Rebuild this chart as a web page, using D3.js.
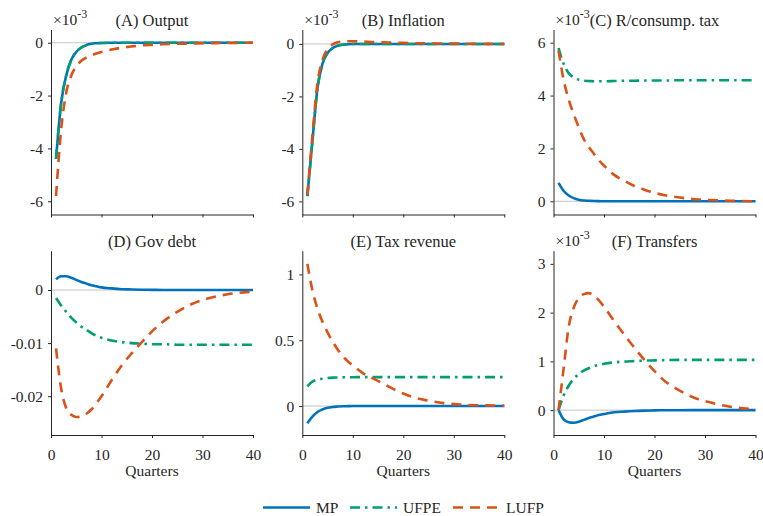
<!DOCTYPE html>
<html>
<head>
<meta charset="utf-8">
<script src="https://cdn.jsdelivr.net/npm/d3@7"></script>
<style>
  body { margin: 0; background: #fff; }
</style>
</head>
<body>
<div id="chart"></div>
<script>
// quarter grid shared by every series
const quarters = [1, 2, 3, 4, 5, 6, 7, 8, 9, 10, 12, 14, 16, 18, 20, 22, 25, 28, 31, 35, 40];

// (A) Output, x1e-3
const outputMP   = [-4.4, -2.3, -1.25, -0.65, -0.35, -0.18, -0.09, -0.04, -0.02, -0.01, 0, 0, 0, 0, 0, 0, 0, 0, 0, 0, 0];
const outputUFPE = [-4.4, -2.3, -1.25, -0.65, -0.35, -0.18, -0.09, -0.04, -0.02, -0.01, 0, 0, 0, 0, 0, 0, 0, 0, 0, 0, 0];
const outputLUFP = [-5.8, -3.3, -1.9, -1.25, -0.9, -0.68, -0.56, -0.48, -0.41, -0.35, -0.26, -0.19, -0.14, -0.1, -0.08, -0.06, -0.04, -0.03, -0.02, -0.01, 0];

// (B) Inflation, x1e-3
const inflMP   = [-5.8, -3.7, -1.7, -0.75, -0.35, -0.16, -0.07, -0.03, -0.01, 0, 0, 0, 0, 0, 0, 0, 0, 0, 0, 0, 0];
const inflUFPE = [-5.8, -3.7, -1.7, -0.75, -0.35, -0.16, -0.07, -0.03, -0.01, 0, 0, 0, 0, 0, 0, 0, 0, 0, 0, 0, 0];
const inflLUFP = [-5.75, -3.5, -1.5, -0.6, -0.2, -0.02, 0.06, 0.09, 0.1, 0.1, 0.09, 0.07, 0.06, 0.05, 0.04, 0.03, 0.02, 0.015, 0.01, 0.005, 0];

// (C) R / consumption tax, x1e-3
const rtaxMP   = [0.7, 0.4, 0.22, 0.12, 0.06, 0.03, 0.02, 0.01, 0.005, 0, 0, 0, 0, 0, 0, 0, 0, 0, 0, 0, 0];
const rtaxUFPE = [5.8, 5.2, 4.85, 4.68, 4.6, 4.56, 4.55, 4.54, 4.54, 4.54, 4.55, 4.56, 4.56, 4.57, 4.57, 4.57, 4.58, 4.58, 4.58, 4.58, 4.58];
const rtaxLUFP = [5.7, 4.6, 3.85, 3.3, 2.8, 2.35, 2.05, 1.8, 1.55, 1.35, 1.0, 0.78, 0.58, 0.44, 0.32, 0.23, 0.14, 0.08, 0.05, 0.02, 0];

// (D) Gov debt
const debtMP   = [0.002, 0.0026, 0.0026, 0.0023, 0.0019, 0.0015, 0.0012, 0.0009, 0.0007, 0.0005, 0.0003, 0.00015, 0.0001, 0.00005, 0.00003, 0, 0, 0, 0, 0, 0];
const debtUFPE = [-0.0015, -0.0029, -0.0041, -0.0052, -0.0061, -0.0069, -0.0075, -0.0081, -0.0086, -0.009, -0.0095, -0.0098, -0.01, -0.0101, -0.0102, -0.0102, -0.0103, -0.0103, -0.0103, -0.0103, -0.0103];
const debtLUFP = [-0.011, -0.0185, -0.0222, -0.0235, -0.0239, -0.0238, -0.0233, -0.0225, -0.0213, -0.02, -0.017, -0.0142, -0.0119, -0.0098, -0.0078, -0.0061, -0.0041, -0.0026, -0.0016, -0.0008, -0.0003];

// (E) Tax revenue
const taxMP   = [-0.13, -0.08, -0.045, -0.025, -0.013, -0.007, -0.004, -0.002, -0.001, 0, 0, 0, 0, 0, 0, 0, 0, 0, 0, 0, 0];
const taxUFPE = [0.15, 0.185, 0.2, 0.208, 0.213, 0.216, 0.217, 0.218, 0.219, 0.219, 0.22, 0.22, 0.22, 0.22, 0.22, 0.22, 0.22, 0.22, 0.22, 0.22, 0.22];
const taxLUFP = [1.08, 0.88, 0.74, 0.64, 0.56, 0.49, 0.43, 0.38, 0.34, 0.31, 0.25, 0.21, 0.17, 0.13, 0.095, 0.066, 0.04, 0.022, 0.012, 0.006, 0.003];

// (F) Transfers, x1e-3
const trMP   = [0, -0.19, -0.25, -0.26, -0.24, -0.2, -0.16, -0.13, -0.1, -0.08, -0.045, -0.03, -0.018, -0.01, -0.005, -0.003, -0.001, 0, 0, 0, 0];
const trUFPE = [0, 0.3, 0.5, 0.64, 0.74, 0.81, 0.86, 0.9, 0.93, 0.95, 0.98, 0.995, 1.005, 1.015, 1.02, 1.025, 1.03, 1.03, 1.03, 1.03, 1.03];
const trLUFP = [0, 0.85, 1.7, 2.1, 2.3, 2.38, 2.4, 2.35, 2.25, 2.12, 1.83, 1.55, 1.28, 1.03, 0.8, 0.6, 0.4, 0.25, 0.16, 0.07, 0.02];

const xTicks = [0, 10, 20, 30, 40];
const seriesNames = ["MP", "UFPE", "LUFP"];

const seriesStyle = {
  MP:   { color: "#0072BD", dash: null },
  UFPE: { color: "#009E73", dash: "10,5,2.5,5" },
  LUFP: { color: "#D95319", dash: "10,7" },
};

const panels = [
  { title: "(A) Output", exp: true, series: [outputMP, outputUFPE, outputLUFP], domain: [-6.5, 0.5], ticks: [-6, -4, -2, 0], col: 0, row: 0 },
  { title: "(B) Inflation", exp: true, series: [inflMP, inflUFPE, inflLUFP], domain: [-6.5, 0.55], ticks: [-6, -4, -2, 0], col: 1, row: 0 },
  { title: "(C) R/consump. tax", exp: true, series: [rtaxMP, rtaxUFPE, rtaxLUFP], domain: [-0.5, 6.5], ticks: [0, 2, 4, 6], col: 2, row: 0 },
  { title: "(D) Gov debt", exp: false, series: [debtMP, debtUFPE, debtLUFP], domain: [-0.0273, 0.0074], ticks: [-0.02, -0.01, 0], col: 0, row: 1 },
  { title: "(E) Tax revenue", exp: false, series: [taxMP, taxUFPE, taxLUFP], domain: [-0.22, 1.18], ticks: [0, 0.5, 1], col: 1, row: 1 },
  { title: "(F) Transfers", exp: true, series: [trMP, trUFPE, trLUFP], domain: [-0.51, 3.27], ticks: [0, 1, 2, 3], col: 2, row: 1 },
];

const W = 763, H = 516;
const FONT = "'Liberation Serif', 'Times New Roman', Times, serif";
const colLeft = [51, 302.3, 553.5];
const plotW = 202;
const rowTop = [29.5, 250.7];
const rowBottom = [214.5, 435];

const svg = d3.select("#chart").append("svg").attr("width", W).attr("height", H);

const tickFmt = (v) => (v === 0 ? "0" : String(v));

panels.forEach((p) => {
  const x0 = colLeft[p.col], y0 = rowTop[p.row], y1 = rowBottom[p.row];
  const x = d3.scaleLinear().domain([0, 40]).range([x0, x0 + plotW]);
  const y = d3.scaleLinear().domain(p.domain).range([y1, y0]);
  const g = svg.append("g");

  // zero reference line
  g.append("line")
    .attr("x1", x(0)).attr("x2", x(40))
    .attr("y1", y(0)).attr("y2", y(0))
    .attr("stroke", "#c4c4c4").attr("stroke-width", 1);

  const line = d3.line()
    .x((d, i) => x(quarters[i]))
    .y((d) => y(d))
    .curve(d3.curveMonotoneX);

  p.series.forEach((vals, i) => {
    const st = seriesStyle[seriesNames[i]];
    g.append("path")
      .datum(vals)
      .attr("d", line)
      .attr("fill", "none")
      .attr("stroke", st.color)
      .attr("stroke-width", 2.6)
      .attr("stroke-dasharray", st.dash);
  });

  const xAxis = g.append("g")
    .attr("transform", `translate(0,${y1})`)
    .call(d3.axisBottom(x).tickValues(xTicks).tickSize(3).tickSizeOuter(0)
      .tickFormat(p.row === 1 ? d3.format("d") : () => ""));
  xAxis.selectAll("text").attr("font-size", 15.5).attr("dy", "1.05em").attr("y", 9);

  const yAxis = g.append("g")
    .attr("transform", `translate(${x0},0)`)
    .call(d3.axisLeft(y).tickValues(p.ticks).tickSize(3).tickSizeOuter(0).tickFormat(tickFmt));
  yAxis.selectAll("text").attr("font-size", 15.5).attr("x", -8);

  [xAxis, yAxis].forEach((a) => {
    a.attr("font-family", null);
    a.select(".domain").attr("stroke", "#262626");
    a.selectAll(".tick line").attr("stroke", "#262626");
  });

  g.append("text")
    .attr("x", x(20)).attr("y", y0 - 4)
    .attr("text-anchor", "middle")
    .attr("font-size", 16.5)
    .text(p.title);

  if (p.exp) {
    const t = g.append("text").attr("x", x0 + 2).attr("y", y0 - 4.5).attr("font-size", 15.5);
    t.append("tspan").text("\u00d710");
    t.append("tspan").attr("dy", -7).attr("font-size", 12).text("-3");
  }

  if (p.row === 1) {
    g.append("text")
      .attr("x", x(20)).attr("y", 476)
      .attr("text-anchor", "middle")
      .attr("font-size", 15.5)
      .text("Quarters");
  }
});

// legend
const legendItems = [
  { name: "MP", x1: 263, x2: 310 },
  { name: "UFPE", x1: 350, x2: 397 },
  { name: "LUFP", x1: 453, x2: 500 },
];
const lg = svg.append("g");
legendItems.forEach((d) => {
  const st = seriesStyle[d.name];
  lg.append("line")
    .attr("x1", d.x1).attr("x2", d.x2).attr("y1", 507.5).attr("y2", 507.5)
    .attr("stroke", st.color).attr("stroke-width", 2.6)
    .attr("stroke-dasharray", st.dash);
  lg.append("text")
    .attr("x", d.x2 + 6).attr("y", 513)
    .attr("font-size", 15.5)
    .text(d.name);
});

svg.selectAll("text").style("font-family", FONT).style("fill", "#262626");
</script>
</body>
</html>
